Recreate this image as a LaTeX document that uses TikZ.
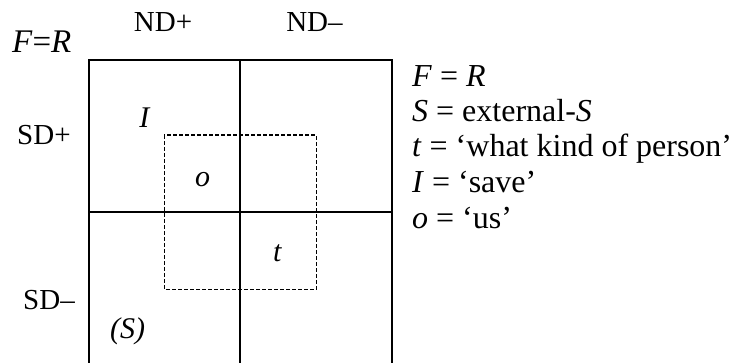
\documentclass[tikz,border=0pt]{standalone}
\usepackage{fontspec}
\setmainfont{Liberation Serif}
\begin{document}
\begin{tikzpicture}[x=1pt,y=-1pt,
  lbl/.style={inner sep=0pt,font=\fontsize{29}{35}\selectfont},
  cell/.style={inner sep=0pt,font=\fontsize{30}{35}\selectfont},
  leg/.style={inner sep=0pt,anchor=base west,font=\fontsize{32}{35}\selectfont},
  gridline/.style={line width=1.6pt,black},
  dashbox/.style={line width=1.2pt,black,dash pattern=on 4pt off 2pt}]
\useasboundingbox (0,0) rectangle (732,363);
% grid
\draw[gridline] (88.7,372) -- (88.7,60) -- (392,60) -- (392,372);
\draw[gridline] (240,60) -- (240,372);
\draw[gridline] (88.7,212) -- (392,212);
\draw[gridline] (88.7,364) -- (392,364);
% dashed box
\draw[dashbox] (164.3,135) rectangle (316.3,289.3);
% headings
\node[leg,font=\fontsize{33}{35}\selectfont] (fr) at (12,53) {\textit{F}=\textit{R}};
\node[lbl,anchor=base] (ndp) at (163,32) {ND+};
\node[lbl,anchor=base] (ndm) at (314.5,32) {ND–};
\node[lbl,anchor=base west] (sdp) at (17,145) {SD+};
\node[lbl,anchor=base west] (sdm) at (23,310) {SD–};
% cell labels
\node[cell,anchor=base] (ci) at (145,128) {\textit{I}};
\node[cell,anchor=base] (co) at (202.5,187) {\textit{o}};
\node[cell,anchor=base] (ct) at (277.5,262) {\textit{t}};
\node[cell,anchor=base] (cs) at (127.5,339) {\textit{(S)}};
% legend
\node[leg] (l1) at (412,87) {\textit{F} = \textit{R}};
\node[leg] (l2) at (412,122) {\textit{S} = external-\textit{S}};
\node[leg] (l3) at (412,157) {\textit{t} = ‘what kind of person’};
\node[leg] (l4) at (412,193) {\textit{I} = ‘save’};
\node[leg] (l5) at (412,229) {\textit{o} = ‘us’};
\end{tikzpicture}
\end{document}
